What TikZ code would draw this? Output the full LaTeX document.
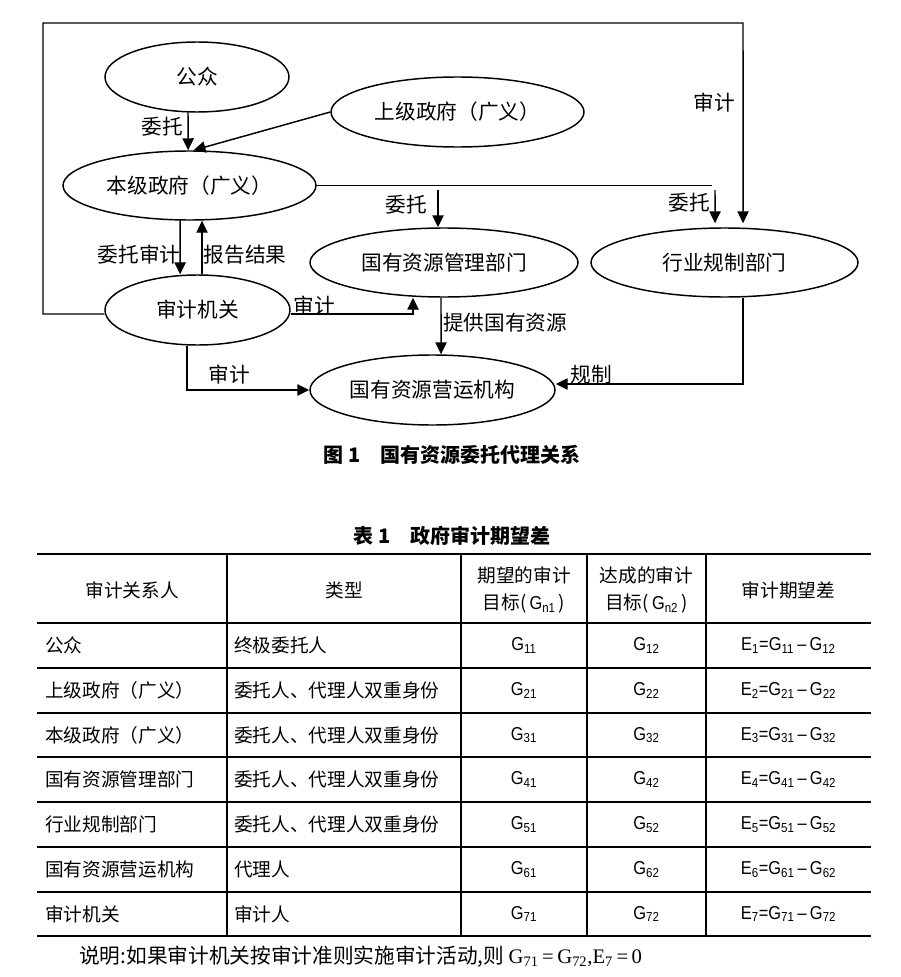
\documentclass[tikz,border=0pt]{standalone}
\usepackage{fontspec}
\setmainfont{Noto Sans CJK SC}
\newfontfamily\latn[FakeStretch=0.88]{Liberation Sans}
\newfontfamily\serf{Liberation Serif}
\usetikzlibrary{shapes.geometric,arrows.meta}
\newcommand\Gsub[1]{{\latn G\textsubscript{#1}}}
\newcommand\Ediff[3]{{\latn E\textsubscript{#1}=G\textsubscript{#2}\,–\,G\textsubscript{#3}}}
\begin{document}
\begin{tikzpicture}[x=0.75pt,y=-0.75pt,
  ell/.style={draw, ellipse, line width=1.1pt, inner sep=0pt, font=\fontsize{15.5}{17}\selectfont},
  arr/.style={line width=1.1pt, -{Triangle[length=9pt,width=8.5pt]}},
  ln/.style={line width=1.1pt},
  lbl/.style={font=\fontsize{15.5}{17}\selectfont, inner sep=0pt},
  captext/.style={font=\fontsize{15}{17}\selectfont\bfseries, inner sep=0pt},
  cell/.style={font=\fontsize{14}{16}\selectfont, inner sep=0pt},
  lcell/.style={cell, anchor=west},
  thickrule/.style={line width=2pt},
  rowrule/.style={line width=1.4pt},
  colrule/.style={line width=0.9pt}]
\useasboundingbox (0,0) rectangle (900,977);

% ---------- Figure 1 ----------
\node[ell, minimum width=138pt, minimum height=52.5pt] (gz) at (197,77) {公众};
\node[ell, minimum width=189.75pt, minimum height=52.5pt] (sj) at (457.5,112) {上级政府（广义）};
\node[ell, minimum width=189.75pt, minimum height=51.75pt] (bj) at (189.5,185.5) {本级政府（广义）};
\node[ell, minimum width=201pt, minimum height=51.75pt] (gl) at (444,262.5) {国有资源管理部门};
\node[ell, minimum width=200.25pt, minimum height=51.75pt] (hy) at (724.5,262.5) {行业规制部门};
\node[ell, minimum width=138.75pt, minimum height=52.5pt] (sjjg) at (197.5,310) {审计机关};
\node[ell, minimum width=183.75pt, minimum height=52.5pt] (yy) at (432.5,390) {国有资源营运机构};

\coordinate (lb) at (43,314);
\coordinate (lt) at (43,23);
\coordinate (rt) at (743,23);
\coordinate (bjend) at (712,185.5);
\coordinate (w1) at (438,190);
\coordinate (w2) at (715,190);

% 公众 -> 本级政府
\draw[arr] ([xshift=-6.75pt]gz.south) -- ([xshift=-1pt]bj.north);
\node[lbl] (l1) at (162,127) {委托};
% 上级政府 -> 本级政府
\draw[arr] (sj.west) -- ([xshift=3pt]bj.north);
% 本级政府 -> 国有资源管理部门 / 行业规制部门
\draw[ln] (bj.east) -- (bjend);
\draw[arr] (w1) -- ([xshift=-4.5pt]gl.north);
\draw[arr] (w2) -- ([xshift=-7.1pt,yshift=3pt]hy.north);
\node[lbl] (l2) at (406,205) {委托};
\node[lbl] (l3) at (689,203) {委托};
% 审计机关 outer loop -> 行业规制部门
\draw[arr] ([yshift=-3pt]sjjg.west) -- (lb) -- (lt) -- (rt) -- ([xshift=13.9pt,yshift=3pt]hy.north);
\node[lbl] (l4) at (714,103) {审计};
% 委托审计 / 报告结果
\draw[arr] ([xshift=-7.1pt]bj.south) -- ([xshift=-13pt]sjjg.north);
\draw[arr] ([xshift=3.4pt]sjjg.north) -- ([xshift=9.4pt]bj.south);
\node[lbl] (l5) at (139,255) {委托审计};
\node[lbl] (l6) at (245,255) {报告结果};
% 审计机关 -> 国有资源管理部门
\draw[arr] ([yshift=-3pt]sjjg.east) -| ([xshift=-23.25pt]gl.south);
\node[lbl] (l7) at (314,306) {审计};
% 审计机关 -> 国有资源营运机构
\draw[arr] ([xshift=-7.9pt]sjjg.south) |- (yy.west);
\node[lbl] (l8) at (229,375) {审计};
% 国有资源管理部门 -> 国有资源营运机构
\draw[arr] ([xshift=-2.25pt]gl.south) -- ([xshift=6.4pt]yy.north);
\node[lbl, anchor=west] (l9) at (443,323) {提供国有资源};
% 行业规制部门 -> 国有资源营运机构
\draw[arr] ([xshift=13.9pt]hy.south) |- ([yshift=4.5pt]yy.east);
\node[lbl] (l10) at (591,375) {规制};

\node[captext] (fig) at (452,455) {图 1\hspace{1em}国有资源委托代理关系};

% ---------- Table 1 ----------
\node[captext] (tab) at (452,536) {表 1\hspace{1em}政府审计期望差};

\draw[thickrule] (37,554) -- (871,554);
\draw[rowrule] (37,623) -- (871,623);
\foreach \yy in {668,713,757,802,847,892} \draw[rowrule] (37,\yy) -- (871,\yy);
\draw[thickrule] (37,936) -- (871,936);
\foreach \xx in {227,461,587,706} \draw[colrule] (\xx,554) -- (\xx,936);

% header
\node[cell] (h1) at (132,590) {审计关系人};
\node[cell] (h2) at (344,590) {类型};
\node[cell, align=center] (h3) at (524,590) {期望的审计\\[4pt]目标(\,\Gsub{n1}\,)};
\node[cell, align=center] (h4) at (646.5,590) {达成的审计\\[4pt]目标(\,\Gsub{n2}\,)};
\node[cell] (h5) at (788.5,590) {审计期望差};

% rows
\node[lcell] (a1) at (45,645.5) {公众};
\node[lcell] (b1) at (234,645.5) {终极委托人};
\node[cell] (c1) at (524,645.5) {\Gsub{11}};
\node[cell] (d1) at (646.5,645.5) {\Gsub{12}};
\node[cell] (e1) at (788.5,645.5) {\Ediff{1}{11}{12}};

\node[lcell] (a2) at (45,690.5) {上级政府（广义）};
\node[lcell] (b2) at (234,690.5) {委托人、代理人双重身份};
\node[cell] (c2) at (524,690.5) {\Gsub{21}};
\node[cell] (d2) at (646.5,690.5) {\Gsub{22}};
\node[cell] (e2) at (788.5,690.5) {\Ediff{2}{21}{22}};

\node[lcell] (a3) at (45,735) {本级政府（广义）};
\node[lcell] (b3) at (234,735) {委托人、代理人双重身份};
\node[cell] (c3) at (524,735) {\Gsub{31}};
\node[cell] (d3) at (646.5,735) {\Gsub{32}};
\node[cell] (e3) at (788.5,735) {\Ediff{3}{31}{32}};

\node[lcell] (a4) at (45,779.5) {国有资源管理部门};
\node[lcell] (b4) at (234,779.5) {委托人、代理人双重身份};
\node[cell] (c4) at (524,779.5) {\Gsub{41}};
\node[cell] (d4) at (646.5,779.5) {\Gsub{42}};
\node[cell] (e4) at (788.5,779.5) {\Ediff{4}{41}{42}};

\node[lcell] (a5) at (45,824.5) {行业规制部门};
\node[lcell] (b5) at (234,824.5) {委托人、代理人双重身份};
\node[cell] (c5) at (524,824.5) {\Gsub{51}};
\node[cell] (d5) at (646.5,824.5) {\Gsub{52}};
\node[cell] (e5) at (788.5,824.5) {\Ediff{5}{51}{52}};

\node[lcell] (a6) at (45,869.5) {国有资源营运机构};
\node[lcell] (b6) at (234,869.5) {代理人};
\node[cell] (c6) at (524,869.5) {\Gsub{61}};
\node[cell] (d6) at (646.5,869.5) {\Gsub{62}};
\node[cell] (e6) at (788.5,869.5) {\Ediff{6}{61}{62}};

\node[lcell] (a7) at (45,914) {审计机关};
\node[lcell] (b7) at (234,914) {审计人};
\node[cell] (c7) at (524,914) {\Gsub{71}};
\node[cell] (d7) at (646.5,914) {\Gsub{72}};
\node[cell] (e7) at (788.5,914) {\Ediff{7}{71}{72}};

\node[cell, anchor=west, font=\fontsize{15.5}{17}\selectfont] (note) at (79,957)
  {说明:如果审计机关按审计准则实施审计活动,则 {\serf G\textsubscript{71}\,=\,G\textsubscript{72},E\textsubscript{7}\,=\,0}};
\end{tikzpicture}
\end{document}
